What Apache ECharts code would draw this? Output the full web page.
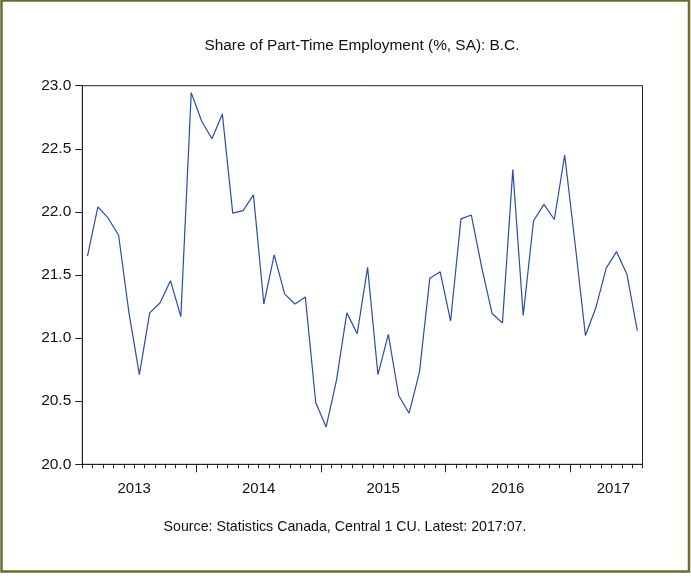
<!DOCTYPE html>
<html>
<head>
<meta charset="utf-8">
<script src="https://cdn.jsdelivr.net/npm/echarts@6/dist/echarts.min.js"></script>
<style>
html,body{margin:0;padding:0;background:#fff;}
#chart{width:691px;height:579px;}
</style>
</head>
<body>
<div id="chart"></div>
<script>
// Monthly series, 2013:02 .. 2017:07
var startYear = 2013;
var startMonth = 2; // February
var shareValues = [
  21.65, 22.04, 21.95, 21.815, 21.2, 20.71, 21.2, 21.28, 21.455, 21.17,
  22.945, 22.72, 22.58, 22.775, 21.99, 22.01, 22.135, 21.27, 21.66, 21.35,
  21.27, 21.325, 20.49, 20.295, 20.665, 21.2, 21.035, 21.56, 20.71, 21.03,
  20.545, 20.405, 20.73, 21.475, 21.525, 21.135, 21.945, 21.975, 21.56, 21.195,
  21.12, 22.335, 21.18, 21.93, 22.06, 21.94, 22.45, 21.75, 21.02, 21.24,
  21.555, 21.685, 21.505, 21.06
];
var yearLabels = ['2013', '2014', '2015', '2016', '2017'];
var titleText = 'Share of Part-Time Employment (%, SA): B.C.';
var sourceText = 'Source: Statistics Canada, Central 1 CU. Latest: 2017:07.';

// month index: 0 = Jan of startYear; each month occupies band [m, m+1]
var firstM = startMonth - 1;
var lastM = firstM + shareValues.length; // end of last band
var seriesData = shareValues.map(function (v, i) { return [firstM + i + 0.5, v]; });
var minorTicks = [];
for (var m = firstM; m <= lastM; m++) minorTicks.push(m);
var majorTicks = [];
for (var y = 1; y < yearLabels.length; y++) majorTicks.push(y * 12);
var labelVals = yearLabels.map(function (s, i) {
  return Math.min(i * 12 + 6, lastM - 2.8);
});

var FONT = '"Liberation Sans", Arial, sans-serif';
var chart = echarts.init(document.getElementById('chart'), null, {renderer: 'canvas'});
chart.setOption({
  animation: false,
  backgroundColor: '#fff',
  graphic: [{
    type: 'rect', silent: true,
    shape: {x: 1.5, y: 0.5, width: 687.5, height: 571},
    style: {fill: 'none', stroke: '#6b6b30', lineWidth: 2.5}
  }, {
    type: 'text', silent: true, x: 362, y: 46,
    style: {text: titleText, font: '15.4px ' + FONT, fill: '#111', align: 'center', verticalAlign: 'middle'}
  }, {
    type: 'text', silent: true, x: 345, y: 527,
    style: {text: sourceText, font: '14.2px ' + FONT, fill: '#111', align: 'center', verticalAlign: 'middle'}
  }],
  grid: {
    left: 82.3, right: 48.5, top: 85.7, bottom: 114.7,
    show: true, borderColor: '#222', borderWidth: 1, backgroundColor: '#fff'
  },
  xAxis: [{
    type: 'value', min: firstM, max: lastM, position: 'bottom',
    axisLine: {show: true, lineStyle: {color: '#222', width: 1}},
    axisTick: {show: true, customValues: minorTicks, length: 4, inside: false, lineStyle: {color: '#222'}},
    axisLabel: {
      show: true, customValues: labelVals, margin: 17,
      fontFamily: FONT, fontSize: 15, color: '#111',
      formatter: function (v) { return String(startYear + Math.floor(v / 12)); }
    },
    splitLine: {show: false}
  }, {
    type: 'value', min: firstM, max: lastM, position: 'bottom',
    axisLine: {show: false},
    axisTick: {show: true, customValues: majorTicks, length: 8, inside: false, lineStyle: {color: '#222'}},
    axisLabel: {show: false},
    splitLine: {show: false}
  }],
  yAxis: {
    type: 'value', min: 20, max: 23, interval: 0.5,
    axisLine: {show: true, lineStyle: {color: '#222', width: 1}},
    axisTick: {show: true, length: 7, inside: false, lineStyle: {color: '#222'}},
    axisLabel: {
      margin: 11, fontFamily: FONT, fontSize: 15.5, color: '#111',
      formatter: function (v) { return v.toFixed(1); }
    },
    splitLine: {show: false}
  },
  series: [{
    type: 'line', xAxisIndex: 0, data: seriesData,
    showSymbol: false, symbol: 'none',
    lineStyle: {color: '#2c4ca8', width: 1.2},
    silent: true
  }]
});
</script>
</body>
</html>
